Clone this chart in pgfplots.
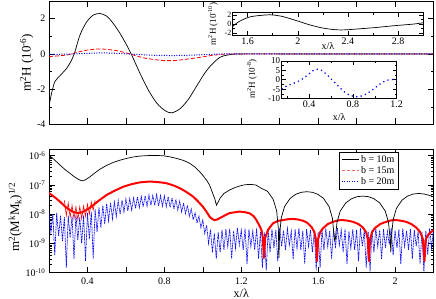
\documentclass[border=0pt]{standalone}
\usepackage{fontspec}
\setmainfont{Liberation Serif}
\usepackage{pgfplots}
\pgfplotsset{compat=1.18}
\usepackage{pgfplotstable}

\pgfplotstableread[row sep=\\]{x y\\
0.200 1.05e-6\\ 0.230 7.1e-7\\ 0.257 4.8e-7\\ 0.285 3.3e-7\\ 0.309 2.5e-7\\ 0.330 1.95e-7\\ 0.344 1.7e-7\\ 0.360 1.48e-7\\ 0.372 1.38e-7\\ 0.380 1.41e-7\\ 0.390 1.51e-7\\ 0.413 1.9e-7\\ 0.440 2.63e-7\\ 0.465 3.47e-7\\ 0.500 4.68e-7\\ 0.534 5.89e-7\\ 0.570 7.08e-7\\ 0.604 8.13e-7\\ 0.640 9.12e-7\\ 0.673 9.77e-7\\ 0.725 1.02e-6\\ 0.760 1.02e-6\\ 0.794 1.0e-6\\ 0.830 9.12e-7\\ 0.863 8.13e-7\\ 0.900 6.9e-7\\ 0.932 5.5e-7\\ 0.960 4.07e-7\\ 0.984 2.82e-7\\ 1.000 2.14e-7\\ 1.019 1.48e-7\\ 1.035 1.0e-7\\ 1.045 6.76e-8\\ 1.055 4.47e-8\\ 1.062 3.47e-8\\ 1.068 2.4e-8\\ 1.071 2.04e-8\\ 1.080 2.63e-8\\ 1.090 3.55e-8\\ 1.110 5.13e-8\\ 1.140 6.76e-8\\ 1.170 8.3e-8\\ 1.200 9.55e-8\\ 1.220 1.02e-7\\ 1.246 1.05e-7\\ 1.276 1.0e-7\\ 1.306 7.6e-8\\ 1.336 6.17e-8\\ 1.366 3.24e-8\\ 1.384 1.32e-8\\ 1.393 3.3e-9\\ 1.396 3.2e-10\\ 1.399 1.86e-9\\ 1.408 7.4e-9\\ 1.425 1.82e-8\\ 1.454 3.47e-8\\ 1.483 4.79e-8\\ 1.512 5.62e-8\\ 1.541 5.89e-8\\ 1.570 5.62e-8\\ 1.599 4.79e-8\\ 1.628 3.47e-8\\ 1.657 1.82e-8\\ 1.674 7.4e-9\\ 1.683 1.86e-9\\ 1.686 1.26e-9\\ 1.689 1.32e-9\\ 1.698 5.25e-9\\ 1.715 1.29e-8\\ 1.744 2.45e-8\\ 1.774 3.39e-8\\ 1.803 3.98e-8\\ 1.832 4.17e-8\\ 1.861 3.98e-8\\ 1.890 3.39e-8\\ 1.920 2.45e-8\\ 1.949 1.29e-8\\ 1.966 5.25e-9\\ 1.975 1.32e-9\\ 1.978 5e-10\\ 1.981 1.62e-9\\ 1.990 6.46e-9\\ 2.007 1.58e-8\\ 2.036 3.02e-8\\ 2.065 4.17e-8\\ 2.094 4.9e-8\\ 2.123 5.13e-8\\ 2.152 4.9e-8\\ 2.181 4.37e-8\\ 2.200 4.0e-8\\
}\blackB

\pgfplotstableread[row sep=\\]{x y\\
0.200 5.3e-8\\ 0.230 3.8e-8\\ 0.257 2.7e-8\\ 0.285 1.8e-8\\ 0.309 1.38e-8\\ 0.330 1.17e-8\\ 0.350 1.1e-8\\ 0.370 1.15e-8\\ 0.390 1.35e-8\\ 0.410 1.62e-8\\ 0.430 2.04e-8\\ 0.460 2.95e-8\\ 0.500 4.57e-8\\ 0.540 6.3e-8\\ 0.586 8.7e-8\\ 0.630 1.07e-7\\ 0.673 1.23e-7\\ 0.710 1.29e-7\\ 0.742 1.29e-7\\ 0.780 1.23e-7\\ 0.811 1.15e-7\\ 0.850 9.5e-8\\ 0.880 7.8e-8\\ 0.915 5.75e-8\\ 0.950 4.0e-8\\ 0.975 2.75e-8\\ 1.000 1.82e-8\\ 1.020 1.2e-8\\ 1.036 8.1e-9\\ 1.050 6.8e-9\\ 1.062 6.3e-9\\ 1.075 6.6e-9\\ 1.097 7.9e-9\\ 1.120 9.5e-9\\ 1.140 1.1e-8\\ 1.192 1.23e-8\\ 1.220 1.17e-8\\ 1.244 1.07e-8\\ 1.265 8.5e-9\\ 1.279 6.3e-9\\ 1.295 4.0e-9\\ 1.305 2.9e-9\\ 1.312 1.6e-9\\ 1.318 3.2e-10\\ 1.325 1.6e-9\\ 1.339 2.9e-9\\ 1.365 4.9e-9\\ 1.390 5.9e-9\\ 1.417 6.3e-9\\ 1.445 6.8e-9\\ 1.469 6.9e-9\\ 1.495 6.6e-9\\ 1.521 6.0e-9\\ 1.545 5.0e-9\\ 1.565 3.7e-9\\ 1.580 2.5e-9\\ 1.588 1.4e-9\\ 1.594 2.5e-10\\ 1.600 1.4e-9\\ 1.610 2.4e-9\\ 1.625 3.3e-9\\ 1.650 4.6e-9\\ 1.677 5.5e-9\\ 1.705 6.2e-9\\ 1.729 6.3e-9\\ 1.755 6.0e-9\\ 1.781 5.5e-9\\ 1.810 4.6e-9\\ 1.833 3.5e-9\\ 1.850 2.4e-9\\ 1.858 1.4e-9\\ 1.864 2.5e-10\\ 1.870 1.4e-9\\ 1.880 2.4e-9\\ 1.894 3.3e-9\\ 1.925 4.7e-9\\ 1.954 5.5e-9\\ 1.980 6.2e-9\\ 2.006 6.3e-9\\ 2.030 6.0e-9\\ 2.058 5.5e-9\\ 2.085 4.6e-9\\ 2.110 3.5e-9\\ 2.130 2.5e-9\\ 2.145 1.4e-9\\ 2.153 2.5e-10\\ 2.160 1.4e-9\\ 2.175 2.1e-9\\ 2.200 2.9e-9\\
}\redB

\pgfplotstableread[row sep=\\]{x y\\
0.28 3.0e-8\\ 0.29 9e-9\\ 0.30 2.4e-8\\ 0.31 8e-9\\ 0.32 2.0e-8\\ 0.33 7e-9\\ 0.34 1.8e-8\\ 0.35 6.5e-9\\ 0.36 1.8e-8\\ 0.37 7e-9\\ 0.38 1.9e-8\\ 0.39 8.5e-9\\ 0.40 2.2e-8\\ 0.41 1e-8\\ 0.42 2.6e-8\\ 0.43 1.4e-8\\ 0.44 3.0e-8\\
}\redNoise

\pgfplotstableread[row sep=\\]{x y\\
0.20 1.2e-8\\ 0.21 2.5e-9\\ 0.22 1.0e-8\\ 0.23 4e-10\\ 0.24 1.1e-8\\ 0.25 1.8e-9\\ 0.26 9e-9\\ 0.27 1.2e-9\\ 0.28 8e-9\\ 0.29 1.5e-10\\ 0.30 9e-9\\ 0.31 1.6e-9\\ 0.32 8.5e-9\\ 0.33 3e-10\\ 0.34 9.5e-9\\ 0.35 1.3e-9\\ 0.36 8e-9\\ 0.37 1e-9\\ 0.38 9e-9\\ 0.39 2.5e-10\\ 0.40 1.1e-8\\ 0.41 1.4e-9\\ 0.42 1.2e-8\\ 0.43 3e-10\\ 0.44 1.5e-8\\ 0.45 2.5e-9\\ 0.46 1.7e-8\\ 0.47 3.5e-9\\ 0.48 2.0e-8\\ 0.49 4.5e-9\\ 0.50 2.3e-8\\ 0.51 6e-9\\ 0.52 2.5e-8\\ 0.53 7e-9\\ 0.54 2.6e-8\\ 0.55 8.5e-9\\ 0.56 2.9e-8\\ 0.57 1e-8\\ 0.58 3.0e-8\\ 0.59 1.2e-8\\ 0.60 3.3e-8\\ 0.61 1.3e-8\\ 0.62 3.4e-8\\ 0.63 1.4e-8\\ 0.64 3.6e-8\\ 0.65 1.6e-8\\ 0.66 3.9e-8\\ 0.67 1.7e-8\\ 0.68 4.0e-8\\ 0.69 1.8e-8\\ 0.70 4.3e-8\\ 0.71 1.9e-8\\ 0.72 4.5e-8\\ 0.73 2.0e-8\\ 0.74 4.4e-8\\ 0.75 2.0e-8\\ 0.76 4.7e-8\\ 0.77 1.9e-8\\ 0.78 4.3e-8\\ 0.79 1.9e-8\\ 0.80 4.2e-8\\ 0.81 1.8e-8\\ 0.82 4.0e-8\\ 0.83 1.7e-8\\ 0.84 3.6e-8\\ 0.85 1.5e-8\\ 0.86 3.2e-8\\ 0.87 1.4e-8\\ 0.88 2.8e-8\\ 0.89 1.2e-8\\ 0.90 2.4e-8\\ 0.91 1.05e-8\\ 0.92 2.0e-8\\ 0.93 8.5e-9\\ 0.94 1.5e-8\\ 0.95 6.5e-9\\ 0.96 1.1e-8\\ 0.97 5e-9\\ 0.98 8.5e-9\\ 0.99 3.5e-9\\ 1.00 6.3e-9\\ 1.01 2.2e-9\\ 1.02 4.2e-9\\ 1.03 1e-9\\ 1.04 3e-9\\ 1.05 5e-10\\ 1.06 2.2e-9\\ 1.07 3e-10\\ 1.08 2.4e-9\\ 1.09 5e-10\\ 1.10 2.9e-9\\ 1.11 6e-10\\ 1.12 3.1e-9\\ 1.13 8e-10\\ 1.14 3.3e-9\\ 1.15 3e-10\\ 1.16 2.7e-9\\ 1.17 7e-10\\ 1.18 3.4e-9\\ 1.19 9e-10\\ 1.20 2.8e-9\\ 1.21 6e-10\\ 1.22 3.2e-9\\ 1.23 2e-10\\ 1.24 3.0e-9\\ 1.25 8e-10\\ 1.26 2.6e-9\\ 1.27 6e-10\\ 1.28 3.3e-9\\ 1.29 3e-10\\ 1.30 2.5e-9\\ 1.31 1.5e-10\\ 1.32 2.4e-9\\ 1.33 1.2e-10\\ 1.34 2.7e-9\\ 1.35 5e-10\\ 1.36 3.1e-9\\ 1.37 7e-10\\ 1.38 2.9e-9\\ 1.39 2.5e-10\\ 1.40 3.4e-9\\ 1.41 8e-10\\ 1.42 2.8e-9\\ 1.43 6e-10\\ 1.44 3.2e-9\\ 1.45 9e-10\\ 1.46 2.6e-9\\ 1.47 3e-10\\ 1.48 3.0e-9\\ 1.49 7e-10\\ 1.50 3.3e-9\\ 1.51 6e-10\\ 1.52 2.7e-9\\ 1.53 2e-10\\ 1.54 3.1e-9\\ 1.55 8e-10\\ 1.56 2.9e-9\\ 1.57 5e-10\\ 1.58 2.6e-9\\ 1.59 1.2e-10\\ 1.60 2.4e-9\\ 1.61 1.5e-10\\ 1.62 2.8e-9\\ 1.63 6e-10\\ 1.64 3.2e-9\\ 1.65 8e-10\\ 1.66 2.7e-9\\ 1.67 3e-10\\ 1.68 3.0e-9\\ 1.69 7e-10\\ 1.70 3.4e-9\\ 1.71 9e-10\\ 1.72 2.8e-9\\ 1.73 5e-10\\ 1.74 3.1e-9\\ 1.75 2e-10\\ 1.76 2.6e-9\\ 1.77 7e-10\\ 1.78 3.0e-9\\ 1.79 6e-10\\ 1.80 2.9e-9\\ 1.81 2.5e-10\\ 1.82 3.3e-9\\ 1.83 8e-10\\ 1.84 2.7e-9\\ 1.85 1.5e-10\\ 1.86 2.5e-9\\ 1.87 1.1e-10\\ 1.88 2.8e-9\\ 1.89 5e-10\\ 1.90 3.2e-9\\ 1.91 8e-10\\ 1.92 2.9e-9\\ 1.93 3e-10\\ 1.94 3.1e-9\\ 1.95 7e-10\\ 1.96 2.6e-9\\ 1.97 9e-10\\ 1.98 3.4e-9\\ 1.99 4e-10\\ 2.00 2.8e-9\\ 2.01 7e-10\\ 2.02 3.0e-9\\ 2.03 2e-10\\ 2.04 3.2e-9\\ 2.05 8e-10\\ 2.06 2.7e-9\\ 2.07 6e-10\\ 2.08 3.1e-9\\ 2.09 3e-10\\ 2.10 2.9e-9\\ 2.11 8e-10\\ 2.12 2.6e-9\\ 2.13 2e-10\\ 2.14 2.5e-9\\ 2.15 1.1e-10\\ 2.16 2.7e-9\\ 2.17 4e-10\\ 2.18 3.3e-9\\ 2.19 7e-10\\ 2.20 3.0e-9\\
}\blueB

\begin{document}
\begin{tikzpicture}
\useasboundingbox (0pt,0pt) rectangle (436pt,-299pt);
\pgfplotsset{
  every axis/.append style={
    scale only axis,
    /pgf/number format/assume math mode=true,
    tick align=inside,
    xtick pos=both, ytick pos=both,
    major tick length=6pt, minor tick length=3pt,
    every tick/.style={black, line width=0.5pt},
    axis line style={line width=0.6pt},
    tick label style={font=\fontsize{10}{12}\selectfont},
    label style={font=\fontsize{13}{15}\selectfont},
  }
}
% ---------- top panel ----------
\begin{axis}[at={(49pt,-1pt)}, anchor=north west, width=384.5pt, height=123.5pt,
  xmin=0.2, xmax=2.2, ymin=-4, ymax=3,
  xtick={0.4,0.6,0.8,1.0,1.2,1.4,1.6,1.8,2.0,2.2}, xticklabels={},
  ytick={-4,-2,0,2}, minor ytick={-3,-1,1},
  ylabel={m\textsuperscript{2}H (10\textsuperscript{-6})},
  ylabel style={at={(axis description cs:-0.058,0.5)}, anchor=center},
]
\addplot[black, line width=0.7pt, smooth] coordinates {
(0.2,-2.97) (0.214,-2.2) (0.231,-1.56) (0.257,-1.24) (0.292,-0.81) (0.318,-0.34) (0.335,0.13) (0.361,1.07) (0.396,1.82) (0.43,2.2) (0.465,2.29) (0.5,2.14) (0.534,1.73) (0.569,1.17) (0.604,0.5) (0.63,-0.06) (0.673,-1.09) (0.716,-2.03) (0.76,-2.78) (0.803,-3.21) (0.837,-3.34) (0.88,-3.12) (0.924,-2.59) (0.967,-1.84) (1.01,-1.09) (1.045,-0.62) (1.088,-0.2) (1.13,-0.06) (1.2,0) (1.5,0) (2.2,0)};
\addplot[red, line width=0.8pt, dash pattern=on 4pt off 2pt, smooth] coordinates {
(0.2,-0.15) (0.25,-0.11) (0.3,-0.05) (0.35,0.10) (0.4,0.22) (0.47,0.28) (0.55,0.19) (0.62,0.0) (0.7,-0.24) (0.8,-0.38) (0.85,-0.38) (0.95,-0.25) (1.05,-0.08) (1.1,-0.02) (1.2,0) (1.5,0) (2.2,0)};
\addplot[blue, line width=1pt, dash pattern=on 1pt off 1.5pt, smooth] coordinates {
(0.2,-0.032) (0.271,-0.016) (0.333,0.002) (0.393,0.028) (0.439,0.05) (0.484,0.056) (0.515,0.05) (0.561,0.028) (0.621,-0.007) (0.682,-0.043) (0.744,-0.075) (0.804,-0.088) (0.85,-0.091) (0.911,-0.079) (0.972,-0.057) (1.032,-0.029) (1.093,-0.007) (1.155,0.002) (1.2,-0.001) (1.5,0) (2.2,0)};
\end{axis}
% ---------- inset 1 ----------
\begin{axis}[at={(232.5pt,-12.7pt)}, anchor=north west, width=190.8pt, height=22.8pt,
  axis background/.style={fill=white},
  xmin=1.48, xmax=3.0, ymin=-2.5, ymax=2.5,
  xtick={1.6,2,2.4,2.8}, minor xtick={1.8,2.2,2.6},
  ytick={-2,0,2}, minor ytick={-1,1},
  major tick length=4pt, minor tick length=2pt,
  yticklabel style={font=\fontsize{8}{8}\selectfont, inner sep=1pt},
  xticklabel style={inner sep=2pt},
  xlabel={x/λ},
  xlabel style={at={(axis description cs:0.5,0)}, anchor=center, yshift=-11pt, font=\fontsize{10}{12}\selectfont},
  ylabel={m\textsuperscript{2}H (10\textsuperscript{-10})},
  ylabel style={at={(axis description cs:-0.102,0.5)}, anchor=center, font=\fontsize{9}{10}\selectfont},
]
\addplot[black, line width=0.7pt, smooth] coordinates {
(1.48,-0.52) (1.533,0.57) (1.613,1.53) (1.693,1.88) (1.786,2.03) (1.88,1.66) (1.986,0.79) (2.093,-0.15) (2.2,-0.87) (2.306,-1.25) (2.386,-1.25) (2.493,-1.03) (2.626,-0.74) (2.76,-0.37) (2.92,0.0) (3.0,0.3)};
\end{axis}
% ---------- inset 2 ----------
\begin{axis}[at={(281.7pt,-61pt)}, anchor=north west, width=115pt, height=37.5pt,
  axis background/.style={fill=white},
  xmin=0.15, xmax=1.2, ymin=-10, ymax=10,
  xtick={0.4,0.8,1.2}, minor xtick={0.2,0.6,1.0},
  ytick={-10,-5,0,5,10}, minor ytick={-7.5,-2.5,2.5,7.5},
  major tick length=4pt, minor tick length=2pt,
  yticklabel style={font=\fontsize{9}{9}\selectfont, inner sep=1.5pt},
  xticklabel style={inner sep=2pt},
  xlabel={x/λ},
  xlabel style={at={(axis description cs:0.5,0)}, anchor=center, yshift=-19pt, font=\fontsize{10}{12}\selectfont},
  ylabel={m\textsuperscript{2}H (10\textsuperscript{-8})},
  ylabel style={at={(axis description cs:-0.258,0.52)}, anchor=center, font=\fontsize{9}{10}\selectfont},
]
\addplot[blue, line width=1.3pt, dash pattern=on 1.2pt off 3.3pt, smooth] coordinates {
(0.15,-5.0) (0.165,-4.3) (0.21,-2.9) (0.271,-1.6) (0.333,0.2) (0.393,2.8) (0.439,5.0) (0.484,5.6) (0.515,5.0) (0.561,2.8) (0.621,-0.7) (0.682,-4.3) (0.744,-7.5) (0.804,-8.8) (0.85,-9.1) (0.911,-7.9) (0.972,-5.7) (1.032,-2.9) (1.093,-0.7) (1.155,0.2) (1.2,-0.1)};
\end{axis}
% ---------- bottom panel ----------
\begin{axis}[at={(49pt,-149.3pt)}, anchor=north west, width=384.5pt, height=123.4pt,
  ymode=log, xmin=0.2, xmax=2.2, ymin=1e-10, ymax=1.66e-6,
  xtick={0.4,0.6,0.8,1.0,1.2,1.4,1.6,1.8,2.0,2.2},
  xticklabels={0.4,,0.8,,1.2,,1.6,,2,},
  xticklabel shift=2pt,
  ytick={1e-10,1e-9,1e-8,1e-7,1e-6},
  yticklabels={10\textsuperscript{-10},10\textsuperscript{-9},10\textsuperscript{-8},10\textsuperscript{-7},10\textsuperscript{-6}},
  xlabel={x/λ},
  xlabel style={at={(axis description cs:0.5,-0.17)}, anchor=center, font=\fontsize{12}{13}\selectfont},
  ylabel={m\textsuperscript{2}(M\textsuperscript{k}M\textsubscript{k})\textsuperscript{1/2}},
  ylabel style={at={(axis description cs:-0.088,0.45)}, anchor=center},
  legend style={at={(0.755,0.98)}, anchor=north west, draw=black, fill=white,
    font=\fontsize{10}{11}\selectfont, inner sep=1.5pt, row sep=-1.5pt, line width=0.5pt},
  legend cell align=left,
  legend image code/.code={\draw[#1] (0pt,0pt) -- (17pt,0pt);},
]
\addlegendimage{black, line width=0.7pt}
\addlegendentry{b = 10m}
\addlegendimage{red!60, line width=1pt, dash pattern=on 3pt off 2pt}
\addlegendentry{b = 15m}
\addlegendimage{blue, line width=1pt, dash pattern=on 1pt off 1.5pt}
\addlegendentry{b = 20m}
\addplot[blue, line width=0.7pt, dash pattern=on 1pt off 0.6pt, forget plot] table {\blueB};
\addplot[red, line width=2pt, line join=round, forget plot] table {\redB};
\addplot[red, line width=0.6pt, forget plot] table {\redNoise};
\addplot[black, line width=0.7pt, forget plot] table {\blackB};
\end{axis}
\end{tikzpicture}
\end{document}
